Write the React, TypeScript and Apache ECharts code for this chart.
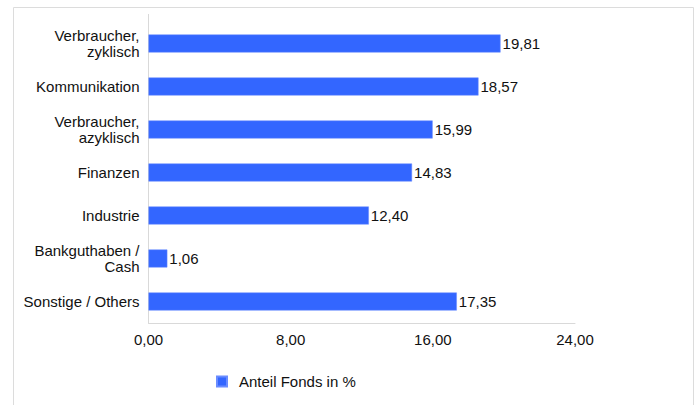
import React, { useEffect, useRef } from "react";
import * as echarts from "echarts";

const categories: string[] = [
  "Verbraucher,\nzyklisch",
  "Kommunikation",
  "Verbraucher,\nazyklisch",
  "Finanzen",
  "Industrie",
  "Bankguthaben /\nCash",
  "Sonstige / Others",
];
const values: number[] = [19.81, 18.57, 15.99, 14.83, 12.4, 1.06, 17.35];
const seriesName = "Anteil Fonds in %";
const xTicks = { min: 0, max: 24, interval: 8 };

const fmt = (v: number) => v.toFixed(2).replace(".", ",");
const FONT = "Arial";

export default function App() {
  const ref = useRef<HTMLDivElement>(null);
  useEffect(() => {
    if (!ref.current) return;
    const chart = echarts.init(ref.current, undefined, { renderer: "svg" });
    chart.setOption({
      animation: false,
      backgroundColor: "#ffffff",
      textStyle: { fontFamily: FONT },
      graphic: [
        {
          type: "rect",
          shape: { x: 13.5, y: 7.5, width: 680, height: 420 },
          style: { fill: "none", stroke: "#dcdcdc", lineWidth: 1 },
          silent: true,
        },
        {
          type: "line",
          shape: { x1: 148.5, y1: 14, x2: 148.5, y2: 22 },
          style: { stroke: "#d9d9d9", lineWidth: 1 },
          silent: true,
        },
      ],
      grid: { left: 148.5, right: 122, top: 22, bottom: 82, containLabel: false },
      legend: {
        left: 216,
        top: 374,
        padding: 0,
        itemWidth: 10,
        itemHeight: 10,
        icon: "rect",
        textStyle: { fontSize: 15, color: "#111", fontFamily: FONT, padding: [0, 0, 0, 7] },
        data: [seriesName],
      },
      xAxis: {
        type: "value",
        min: xTicks.min,
        max: xTicks.max,
        interval: xTicks.interval,
        axisLine: { show: true, lineStyle: { color: "#d9d9d9" } },
        axisTick: { show: false },
        splitLine: { show: false },
        axisLabel: {
          formatter: (v: number) => fmt(v),
          fontSize: 15,
          color: "#111",
          margin: 9,
          fontFamily: FONT,
        },
      },
      yAxis: {
        type: "category",
        inverse: true,
        data: categories,
        axisLine: { show: true, lineStyle: { color: "#d9d9d9" } },
        axisTick: { show: false },
        axisLabel: {
          fontSize: 15,
          color: "#111",
          margin: 9,
          lineHeight: 16,
          align: "right",
          fontFamily: FONT,
        },
      },
      series: [
        {
          name: seriesName,
          type: "bar",
          data: values,
          barWidth: 18,
          itemStyle: { color: "#3366ff", borderColor: "#6a8cff", borderWidth: 0.5 },
          label: {
            show: true,
            position: "right",
            distance: 2,
            fontSize: 15,
            color: "#111",
            fontFamily: FONT,
            formatter: (p: any) => fmt(p.value),
          },
        },
      ],
    });
    return () => chart.dispose();
  }, []);
  return (
    <div
      ref={ref}
      style={{ position: "fixed", left: 0, top: 0, width: 697, height: 405 }}
    />
  );
}
